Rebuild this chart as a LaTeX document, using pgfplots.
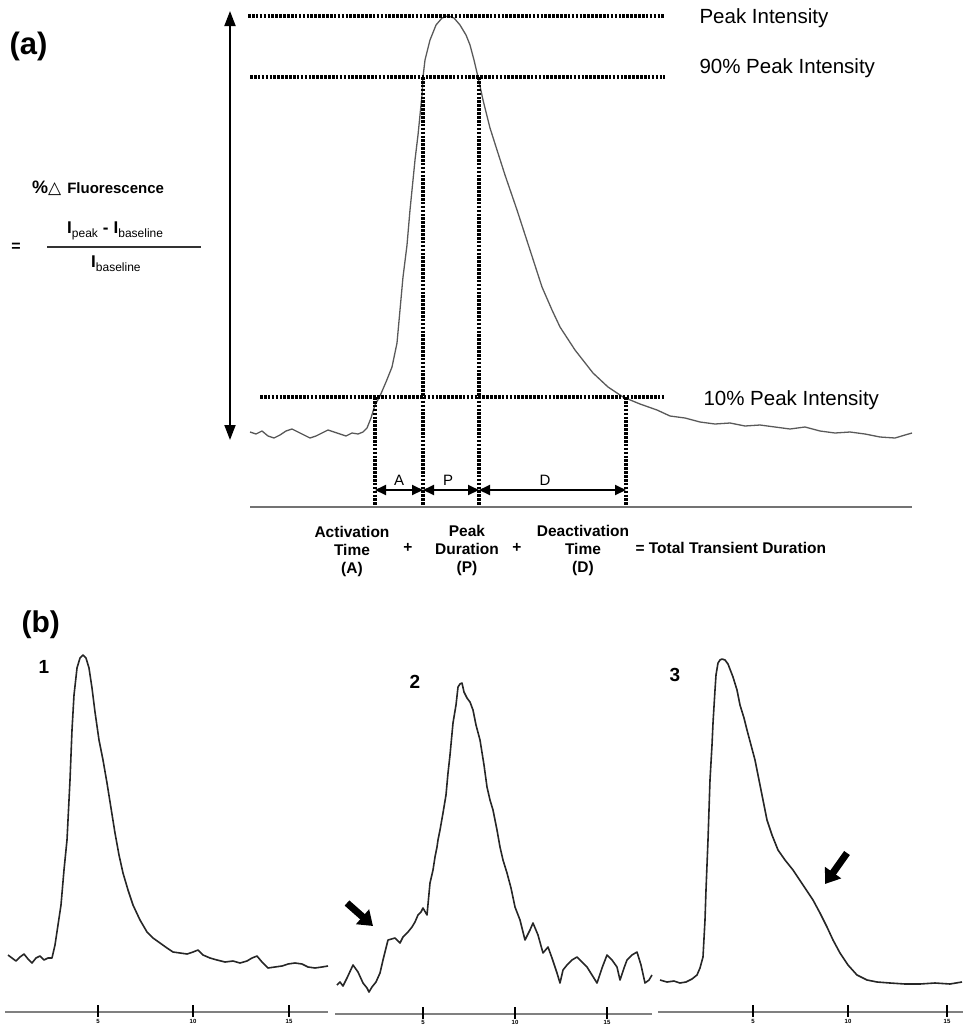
\documentclass[border=0pt]{standalone}
\usepackage{fontspec}
\setmainfont{Liberation Sans}
\newfontfamily\dejavu{DejaVu Sans}
\usepackage{pgfplots}
\pgfplotsset{compat=1.18}
\usetikzlibrary{arrows.meta}
\newcommand{\fs}[1]{\fontsize{#1}{#1}\selectfont}

\tikzset{
  traceA/.style={no marks, draw=black!65, line width=1.3pt, line join=round},
  traceB/.style={no marks, draw=black!85, line width=1.6pt, line join=round},
  dots/.style={no marks, black, line width=3.2pt, dash pattern=on 2.6pt off 1.3pt},
  base/.style={no marks, draw=black!55, line width=1.4pt},
  tck/.style={no marks, black, line width=1.2pt},
}

\begin{document}
\begin{tikzpicture}
\begin{axis}[
  scale only axis, width=963pt, height=1026pt,
  xmin=0, xmax=963, ymin=0, ymax=1026, y dir=reverse,
  hide axis, clip=false,
]
% frame of the page
\addplot[draw=none, no marks] coordinates {(0,0) (963,1026)};

% ---------- panel (a) ----------
\addplot[traceA] coordinates {
(250,432) (256,434) (262,431) (268,436) (274,438) (280,435) (286,431) (292,429)
(298,432) (304,435) (310,438) (316,436) (322,433) (328,430) (334,432) (340,434)
(346,436) (352,433) (358,434) (363,432) (367,428) (371,418) (375,405) (380,396)
(386,382) (392,367) (397,343) (400,310) (403,277) (407,245) (410,210) (413,180)
(415,160) (418,135) (420,115) (422,95) (423,77) (425,60) (430,40) (436,25)
(442,18) (448,16) (454,18) (460,25) (466,35) (470,45) (474,60) (478,77)
(483,100) (490,128) (497,150) (505,175) (517,210) (530,250) (542,287) (552,310)
(560,327) (575,350) (593,373) (608,387) (623,397) (640,404) (657,410) (670,416)
(685,418) (700,422) (715,424) (730,423) (745,426) (760,425) (775,427) (790,429)
(805,427) (820,431) (835,433) (850,432) (865,434) (880,437) (895,438) (905,435)
(912,433)};

% threshold lines
\addplot[dots] coordinates {(248,16) (665,16)};
\addplot[dots] coordinates {(250,77) (665,77)};
\addplot[dots] coordinates {(260,397) (665,397)};
\addplot[dots] coordinates {(423,77) (423,508)};
\addplot[dots] coordinates {(479,77) (479,508)};
\addplot[dots] coordinates {(375,397) (375,508)};
\addplot[dots] coordinates {(626,397) (626,508)};

% time axis
\addplot[base] coordinates {(250,507) (912,507)};

% arrows
\draw[line width=1.8pt, {Triangle[width=11pt,length=15pt]}-{Triangle[width=11pt,length=15pt]}]
  (axis cs:230,11) -- (axis cs:230,440);
\draw[line width=2pt, {Triangle[width=10pt,length=11pt]}-{Triangle[width=10pt,length=11pt]}]
  (axis cs:375,490) -- (axis cs:423,490);
\draw[line width=2pt, {Triangle[width=10pt,length=11pt]}-{Triangle[width=10pt,length=11pt]}]
  (axis cs:423,490) -- (axis cs:479,490);
\draw[line width=2pt, {Triangle[width=10pt,length=11pt]}-{Triangle[width=10pt,length=11pt]}]
  (axis cs:479,490) -- (axis cs:626,490);

\node[font=\fs{15}] at (axis cs:399,480) {A};
\node[font=\fs{15}] at (axis cs:448,480) {P};
\node[font=\fs{15}] at (axis cs:545,480) {D};

\node[anchor=west, font=\fs{20.5}] at (axis cs:696,18) {Peak Intensity};
\node[anchor=west, font=\fs{20.5}] at (axis cs:696,68) {90\% Peak Intensity};
\node[anchor=west, font=\fs{20.5}] at (axis cs:700,400) {10\% Peak Intensity};

\node[font=\bfseries\fontsize{15.5}{18}\selectfont, align=center] at (axis cs:352,551)
  {Activation\\Time\\(A)};
\node[font=\bfseries\fs{15.5}] at (axis cs:408,548) {+};
\node[font=\bfseries\fontsize{15.5}{18}\selectfont, align=center] at (axis cs:467,550)
  {Peak\\Duration\\(P)};
\node[font=\bfseries\fs{15.5}] at (axis cs:517,548) {+};
\node[font=\bfseries\fontsize{15.5}{18}\selectfont, align=center] at (axis cs:583,550)
  {Deactivation\\Time\\(D)};
\node[anchor=west, font=\bfseries\fs{15.5}] at (axis cs:632,548) {= Total Transient Duration};

% formula
\node[anchor=west, font=\bfseries\fs{31}] at (axis cs:6,46) {(a)};
\node[anchor=west, inner sep=0pt] at (axis cs:32,188)
  {\bfseries\fs{18}\%{\dejavu\fs{17}△}\hspace{6pt}\fs{15}Fluorescence};
\node[font=\bfseries\fs{16}] at (axis cs:16,247) {=};
\addplot[no marks, black!80, line width=1.2pt] coordinates {(47,247) (201,247)};
\node[anchor=west, inner sep=0pt] at (axis cs:67,231)
  {\bfseries\fs{17}I\raisebox{-4pt}{\mdseries\fs{12}peak}\hspace{5pt}-\hspace{5pt}I\raisebox{-4pt}{\mdseries\fs{12}baseline}};
\node[anchor=west, inner sep=0pt] at (axis cs:91,264)
  {\bfseries\fs{17}I\raisebox{-4pt}{\mdseries\fs{12}baseline}};

% ---------- panel (b) ----------
\node[anchor=west, font=\bfseries\fs{30}] at (axis cs:18,625) {(b)};
\node[font=\bfseries\fs{19}] at (axis cs:44,667) {1};
\node[font=\bfseries\fs{19}] at (axis cs:415,682) {2};
\node[font=\bfseries\fs{19}] at (axis cs:675,675) {3};

\addplot[traceB] coordinates {
(8,955) (12,958) (16,961) (20,957) (24,954) (28,959) (32,963) (36,958) (40,956)
(44,960) (48,958) (52,958) (55,945) (58,925) (61,905) (64,870) (67,840) (70,780)
(72,730) (74,695) (77,668) (80,658) (83,655) (86,658) (89,668) (92,688) (95,712)
(99,740) (103,760) (107,783) (111,808) (115,833) (119,855) (123,873) (128,890)
(133,905) (140,920) (147,932) (153,938) (160,943) (167,948) (173,952) (180,953)
(187,954) (193,952) (198,950) (203,955) (210,958) (217,960) (225,962) (233,961)
(240,963) (247,961) (252,958) (257,956) (262,962) (268,968) (275,967) (282,966)
(288,964) (295,963) (302,964) (308,967) (315,968) (322,967) (328,966)};

\addplot[traceB] coordinates {
(337,985) (340,982) (343,986) (347,978) (353,965) (358,972) (363,983) (367,988)
(369,992) (372,987) (376,982) (380,973) (383,960) (388,940) (395,938) (400,943)
(403,937) (408,932) (412,927) (415,922) (418,915) (421,912) (423,908) (427,915)
(430,883) (433,870) (435,857) (437,847) (438,840) (440,830) (443,813) (446,795)
(448,773) (450,755) (453,723) (456,705) (458,687) (460,684) (462,683) (464,692)
(467,698) (470,702) (473,710) (476,725) (480,740) (484,765) (487,787) (490,800)
(493,810) (497,830) (500,847) (503,860) (507,873) (511,888) (515,907) (520,920)
(525,940) (530,930) (533,923) (538,935) (543,953) (548,947) (552,958) (557,973)
(560,983) (563,970) (567,965) (572,960) (577,957) (582,962) (587,967) (592,975)
(597,983) (602,968) (607,955) (612,960) (617,967) (620,980) (624,968) (627,960)
(632,955) (637,952) (641,965) (645,983) (649,980) (652,975)};

\addplot[traceB] coordinates {
(660,980) (667,982) (674,981) (680,983) (686,982) (692,979) (697,975) (700,968)
(703,957) (705,920) (706,890) (708,840) (710,780) (712,745) (713,723) (715,690)
(716,675) (718,663) (720,660) (722,659) (725,660) (728,664) (733,677) (737,690)
(740,705) (744,718) (747,730) (751,745) (755,760) (758,775) (761,790) (764,805)
(767,820) (772,835) (778,850) (785,860) (793,870) (803,885) (813,900) (820,913)
(827,927) (833,940) (840,953) (848,965) (857,975) (867,980) (877,982) (890,983)
(905,984) (920,984) (935,983) (950,984) (962,982)};

% block arrows
\draw[line width=7pt, -{Triangle[width=19pt,length=14pt]}] (axis cs:347,903) -- (axis cs:373,926);
\draw[line width=7pt, -{Triangle[width=19pt,length=14pt]}] (axis cs:847,853) -- (axis cs:825,884);

% time axes of panel (b)
\addplot[base, draw=black!50, line width=2.2pt] coordinates {(5,1012) (328,1012)};
\addplot[base, draw=black!50, line width=2.2pt] coordinates {(335,1014) (652,1014)};
\addplot[base, draw=black!50, line width=2.2pt] coordinates {(658,1012) (963,1012)};
\addplot[tck] coordinates {(98,1005) (98,1017)};
\addplot[tck] coordinates {(193,1005) (193,1017)};
\addplot[tck] coordinates {(289,1005) (289,1017)};
\addplot[tck] coordinates {(423,1007) (423,1019)};
\addplot[tck] coordinates {(515,1007) (515,1019)};
\addplot[tck] coordinates {(607,1007) (607,1019)};
\addplot[tck] coordinates {(753,1005) (753,1017)};
\addplot[tck] coordinates {(848,1005) (848,1017)};
\addplot[tck] coordinates {(947,1005) (947,1017)};
\foreach \x/\t in {98/5,193/10,289/15,753/5,848/10,947/15} {
  \edef\tmp{\noexpand\node[font=\noexpand\bfseries\noexpand\fs{6}, inner sep=0pt] at (axis cs:\x,1021) {\t};}\tmp
}
\foreach \x/\t in {423/5,515/10,607/15} {
  \edef\tmp{\noexpand\node[font=\noexpand\bfseries\noexpand\fs{6}, inner sep=0pt] at (axis cs:\x,1022) {\t};}\tmp
}
\end{axis}
\end{tikzpicture}
\end{document}
